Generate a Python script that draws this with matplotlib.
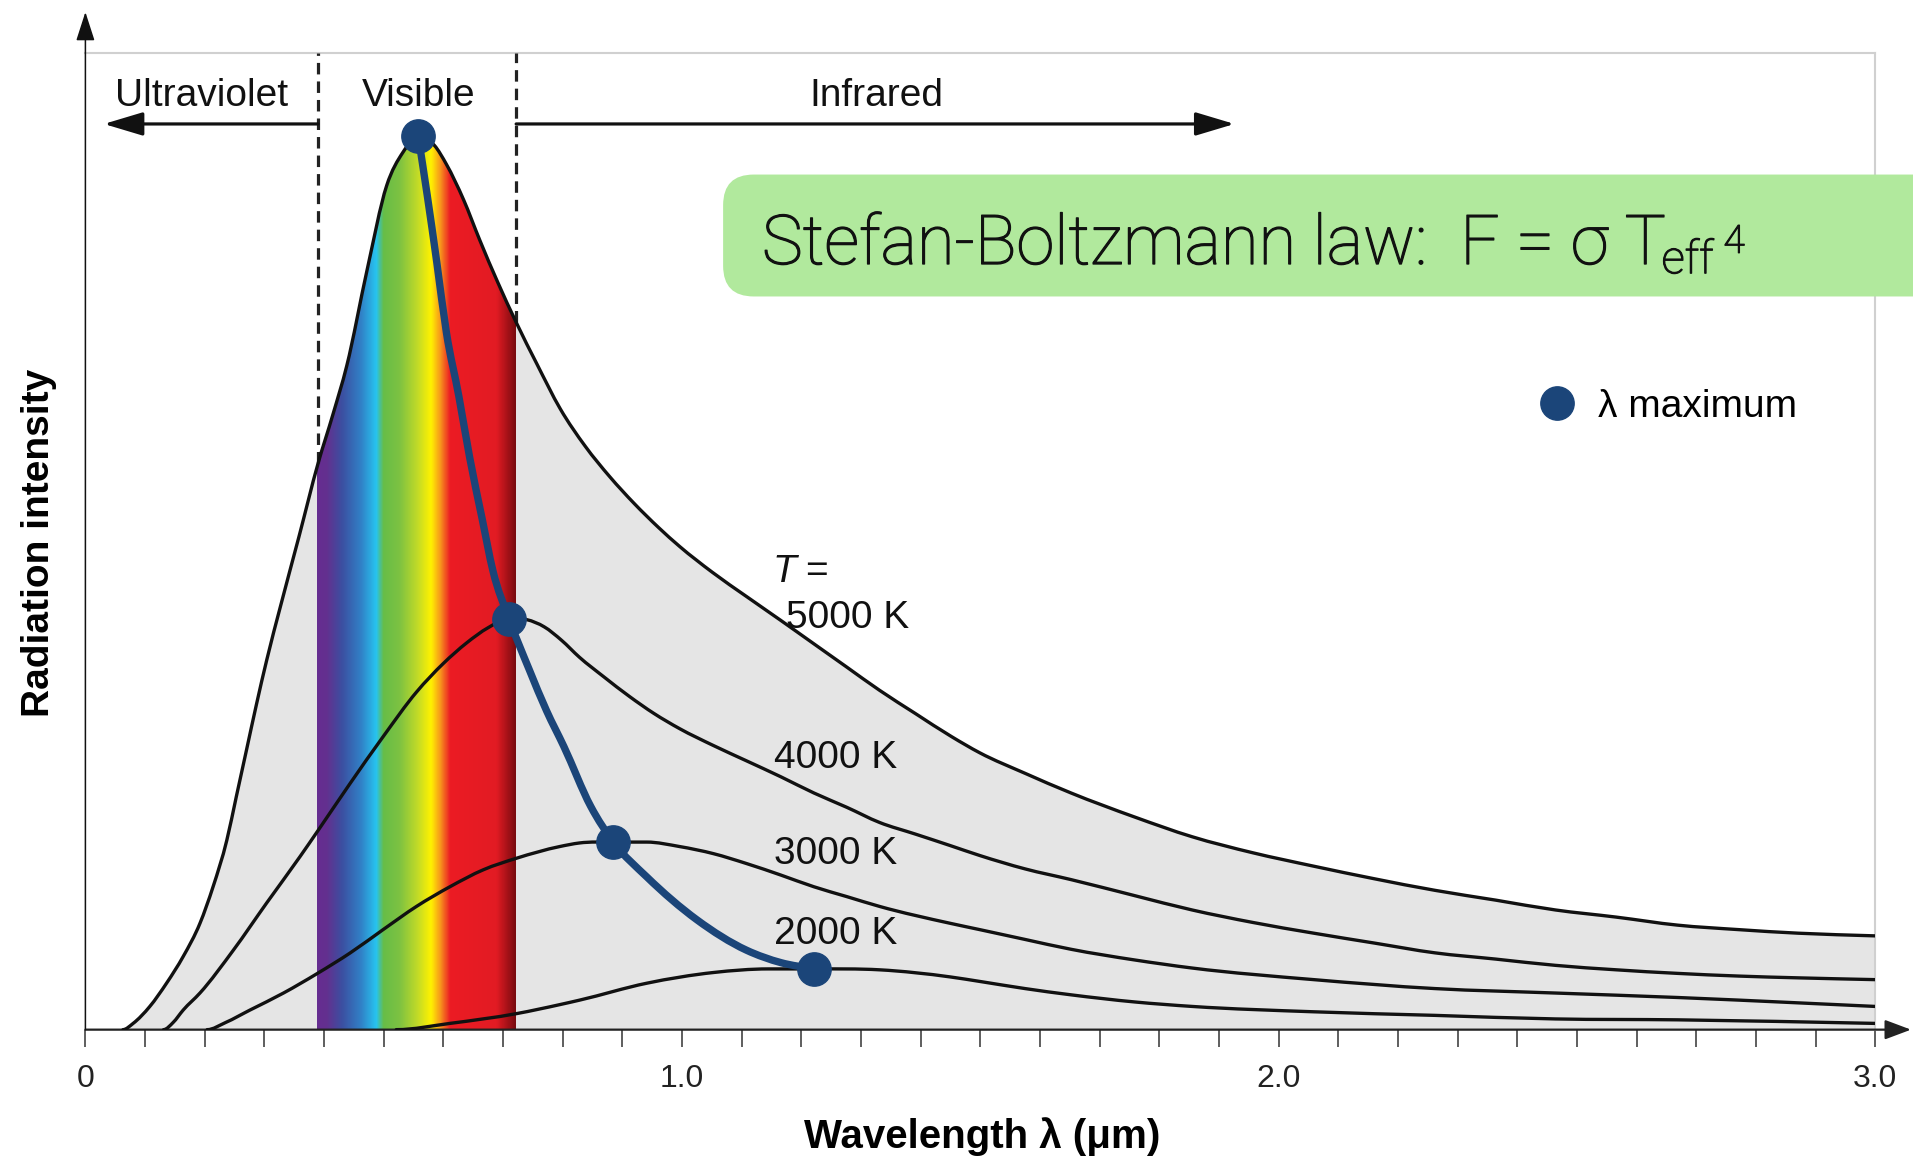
import numpy as np
import matplotlib
matplotlib.use('Agg')
import matplotlib.pyplot as plt
import matplotlib.patheffects as pe
from matplotlib.colors import LinearSegmentedColormap
from matplotlib.lines import Line2D
from matplotlib.patches import FancyBboxPatch, PathPatch
from matplotlib.path import Path
from matplotlib.text import Annotation

plt.rcParams['font.family'] = ['Liberation Sans', 'DejaVu Sans']

# blackbody curves: wavelength (um) vs intensity (arbitrary units, 5000 K peak = 100)
wl_5000 = [0.063, 0.080, 0.108, 0.136, 0.164, 0.192, 0.214, 0.237, 0.253, 0.270,
           0.287, 0.304, 0.327, 0.358, 0.390, 0.415, 0.438, 0.472, 0.505, 0.532,
           0.558, 0.585, 0.605, 0.634, 0.661, 0.691, 0.722, 0.757, 0.796, 0.838,
           0.879, 0.920, 0.961, 0.996, 1.051, 1.108, 1.166, 1.221, 1.276, 1.331,
           1.391, 1.452, 1.499, 1.575, 1.652, 1.759, 1.855, 1.957, 2.059, 2.160,
           2.262, 2.364, 2.464, 2.566, 2.669, 2.771, 2.871, 3.0]
i_5000 = [0.0, 0.7, 2.6, 5.2, 8.2, 11.9, 16.0, 21.2, 26.1, 31.3,
          36.5, 41.4, 47.4, 55.2, 63.4, 68.9, 74.3, 85.0, 94.5, 98.2,
          100.0, 99.0, 96.9, 92.9, 88.4, 83.7, 79.2, 74.5, 69.5, 65.3,
          61.9, 58.9, 56.2, 54.1, 51.2, 48.5, 45.8, 43.2, 40.6, 38.0,
          35.4, 32.8, 31.0, 28.7, 26.5, 23.8, 21.6, 19.8, 18.3, 16.9,
          15.6, 14.5, 13.4, 12.6, 11.7, 11.2, 10.8, 10.5]

wl_4000 = [0.131, 0.147, 0.164, 0.192, 0.248, 0.304, 0.360, 0.390, 0.443, 0.499,
           0.555, 0.600, 0.639, 0.675, 0.710, 0.740, 0.769, 0.798, 0.828, 0.869,
           0.912, 0.953, 0.996, 1.053, 1.108, 1.166, 1.221, 1.276, 1.331, 1.391,
           1.450, 1.499, 1.575, 1.652, 1.759, 1.855, 1.957, 2.059, 2.160, 2.262,
           2.364, 2.464, 2.566, 2.669, 2.771, 2.871, 3.0]
i_4000 = [0.0, 0.8, 2.2, 4.1, 8.9, 14.2, 19.4, 22.3, 27.5, 32.8,
          37.8, 41.0, 43.3, 45.0, 46.0, 45.9, 45.1, 43.6, 41.7, 39.5,
          37.3, 35.4, 33.7, 31.8, 30.1, 28.3, 26.5, 24.9, 23.2, 21.9,
          20.6, 19.5, 18.0, 16.8, 15.0, 13.4, 12.0, 10.8, 9.7, 8.6,
          7.9, 7.2, 6.7, 6.3, 6.0, 5.8, 5.6]

wl_3000 = [0.204, 0.235, 0.276, 0.332, 0.389, 0.444, 0.499, 0.555, 0.611, 0.667,
           0.723, 0.795, 0.828, 0.885, 0.941, 0.996, 1.053, 1.108, 1.166, 1.221,
           1.276, 1.331, 1.450, 1.499, 1.575, 1.652, 1.759, 1.855, 2.059, 2.262,
           2.464, 2.669, 2.871, 3.0]
i_3000 = [0.0, 0.8, 2.2, 4.1, 6.3, 8.6, 11.2, 13.8, 16.0, 17.9,
          19.2, 20.5, 20.9, 21.0, 21.0, 20.5, 19.7, 18.6, 17.3, 16.0,
          14.9, 13.8, 11.9, 11.2, 10.1, 9.0, 7.8, 6.9, 5.6, 4.6,
          4.1, 3.6, 3.0, 2.6]

wl_2000 = [0.521, 0.611, 0.723, 0.795, 0.828, 0.941, 1.053, 1.145, 1.221, 1.331,
           1.450, 1.499, 1.575, 1.652, 1.759, 1.855, 2.059, 2.262, 2.464, 2.669, 3.0]
i_2000 = [0.0, 0.7, 1.8, 2.8, 3.3, 5.2, 6.4, 6.8, 6.8, 6.7,
          5.9, 5.4, 4.6, 3.9, 3.1, 2.6, 2.0, 1.6, 1.2, 1.1, 0.7]

curves = [(wl_5000, i_5000), (wl_4000, i_4000), (wl_3000, i_3000), (wl_2000, i_2000)]

# wavelength of maximum emission for each temperature
peak_wl = [0.558, 0.710, 0.885, 1.221]
peak_i = [100.0, 46.0, 21.0, 6.8]
locus_wl = [0.558, 0.573, 0.589, 0.605, 0.626, 0.644, 0.665, 0.683, 0.710, 0.744,
            0.773, 0.802, 0.847, 0.885, 0.941, 1.025, 1.108, 1.166, 1.221]
locus_i = [100.0, 93.4, 85.9, 78.1, 70.9, 64.1, 57.2, 51.4, 46.0, 40.3,
           35.7, 31.7, 25.0, 21.0, 17.1, 12.3, 8.9, 7.5, 6.8]

temp_labels = ['5000 K', '4000 K', '3000 K', '2000 K']
temp_label_wl = [1.174, 1.155, 1.155, 1.155]
temp_label_i = [46.1, 30.45, 19.65, 10.75]

# visible band and its colours
visible = [0.39, 0.722]
spec_wl = [0.389, 0.405, 0.430, 0.462, 0.488, 0.500, 0.527, 0.558, 0.580,
           0.596, 0.612, 0.690, 0.722]
spec_col = ['#662d91', '#63308f', '#3c4fa1', '#3180c6', '#27c4f0', '#67bd47',
            '#7dc242', '#c3db27', '#fff200', '#f7941d', '#ec1c24', '#e21b23', '#7a0b10']

region_names = ['Ultraviolet', 'Visible', 'Infrared']
region_wl = [0.194, 0.558, 1.325]
arrow_tips = [0.031, 1.926]

xticks = np.round(np.arange(0, 3.01, 0.1), 1)
xtick_labels = ['0' if v == 0 else ('%.1f' % v if v % 1 == 0 else '') for v in xticks]

blue = '#1b4579'
ink = '#111111'
ymax = 109.4


def smooth_path(x, y, flat_start=False, close=False):
    """Cubic Bezier path through the points (Hermite in x, flat at extrema)."""
    x = np.asarray(x, float)
    y = np.asarray(y, float)
    h = np.diff(x)
    d = np.diff(y) / h
    m = np.empty_like(y)
    m[0], m[-1] = d[0], d[-1]
    for k in range(1, len(x) - 1):
        if d[k - 1] * d[k] <= 0:
            m[k] = 0.0
        else:
            m[k] = (d[k - 1] * h[k] + d[k] * h[k - 1]) / (h[k - 1] + h[k])
    if flat_start:
        m[0] = 0.0
    verts = [(x[0], y[0])]
    codes = [Path.MOVETO]
    for k in range(len(h)):
        verts += [(x[k] + h[k] / 3, y[k] + m[k] * h[k] / 3),
                  (x[k + 1] - h[k] / 3, y[k + 1] - m[k + 1] * h[k] / 3),
                  (x[k + 1], y[k + 1])]
        codes += [Path.CURVE4] * 3
    if close:
        verts += [(x[-1], 0), (x[0], 0), (x[0], y[0])]
        codes += [Path.LINETO, Path.LINETO, Path.CLOSEPOLY]
    return Path(verts, codes)


fig = plt.figure(figsize=(19.13, 11.59), dpi=100)
ax = fig.add_axes([0.04464, 0.1116, 0.9356, 0.8431])

# grey area under the hottest curve, rainbow clipped to it
area = PathPatch(smooth_path(wl_5000, i_5000, flat_start=True, close=True),
                 fc='#e5e5e5', ec='none', zorder=1, transform=ax.transData)
ax.add_patch(area)
pos = [(w - spec_wl[0]) / (spec_wl[-1] - spec_wl[0]) for w in spec_wl]
cmap = LinearSegmentedColormap.from_list('spectrum', list(zip(pos, spec_col)))
im = ax.imshow(np.linspace(0, 1, 800)[None, :], cmap=cmap, aspect='auto',
               extent=[spec_wl[0], spec_wl[-1], 0, 101], interpolation='bilinear', zorder=2)
im.set_clip_path(area)

for wl, inten in curves:
    ax.add_patch(PathPatch(smooth_path(wl, inten, flat_start=True), fill=False,
                           ec=ink, lw=2.4, zorder=4, capstyle='round'))

# band limits
for e in visible:
    ax.plot([e, e], [np.interp(e, wl_5000, i_5000), ymax], color='#222222', lw=2.3,
            ls=(0, (3.6, 2.2)), zorder=3)
for e, tip in zip(visible, arrow_tips):
    ax.annotate('', xy=(tip, 101.4), xytext=(e, 101.4),
                arrowprops=dict(arrowstyle='-|>,head_length=1.2,head_width=0.36',
                                mutation_scale=20, lw=2.3, color=ink,
                                shrinkA=0, shrinkB=0))
for name, w in zip(region_names, region_wl):
    ax.text(w, 104.5, name, ha='center', va='center', fontsize=28, color=ink)

# Wien displacement locus
ax.add_patch(PathPatch(smooth_path(locus_wl, locus_i), fill=False, ec=blue, lw=5.3,
                       zorder=5, capstyle='round'))
ax.plot(peak_wl, peak_i, 'o', ms=24, color=blue, zorder=6)

ax.text(1.151, 51.2, 'T', style='italic', fontsize=28, va='center', color=ink)
ax.text(1.207, 51.2, '=', fontsize=28, va='center', color=ink)
for lab, w, v in zip(temp_labels, temp_label_wl, temp_label_i):
    ax.text(w, v, lab, fontsize=28, va='center', color=ink)

ax.legend(handles=[Line2D([], [], marker='o', ls='', color=blue, ms=24)],
          labels=['λ maximum'], loc='center left', bbox_to_anchor=(0.8113, 0.6375),
          frameon=False, fontsize=28, handlelength=1.0, handletextpad=0.55,
          borderpad=0, borderaxespad=0)

ax.set_xlim(0, 3.0)
ax.set_ylim(0, ymax)
ax.set_xticks(xticks)
ax.set_xticklabels(xtick_labels)
ax.set_yticks([])
ax.tick_params(axis='x', direction='out', length=12, width=1.1, color='#333333',
               pad=13, labelsize=23, labelcolor='#222222')
for s in ['left', 'bottom']:
    ax.spines[s].set_visible(False)
for s in ['top', 'right']:
    ax.spines[s].set_color('#d0d0d0')
    ax.spines[s].set_linewidth(1.5)

# axis lines with arrow heads
ax.annotate('', xy=(1.0200, 0), xytext=(0, 0), xycoords='axes fraction',
            arrowprops=dict(arrowstyle='-|>,head_length=0.8,head_width=0.3',
                            mutation_scale=20, lw=1.6, color='#222222', shrinkA=0, shrinkB=0),
            annotation_clip=False)
ax.annotate('', xy=(0, 1.0414), xytext=(0, 0), xycoords='axes fraction',
            arrowprops=dict(arrowstyle='-|>,head_length=0.9,head_width=0.29',
                            mutation_scale=20, lw=1.1, color=ink, shrinkA=0, shrinkB=0),
            annotation_clip=False)

ax.set_xlabel('Wavelength λ (μm)', fontsize=29, fontweight='bold', va='center')
ax.xaxis.set_label_coords(0.501, -0.1098)
ax.set_ylabel('Radiation intensity', fontsize=28, fontweight='bold', va='center')
ax.yaxis.set_label_coords(-0.0259, 0.498)

# Stefan-Boltzmann banner
box = FancyBboxPatch((0.378, 0.7442), 0.7, 0.1052,
                     boxstyle='round,pad=0,rounding_size=0.016',
                     mutation_aspect=1913 / 1159, transform=fig.transFigure,
                     fc='#b1e99d', ec='none', zorder=5)
fig.add_artist(box)
thicken = [pe.withStroke(linewidth=0.9, foreground=ink)]
sb_font = dict(family=['Roboto', 'DejaVu Sans'], fontweight='light', color=ink,
               path_effects=thicken)
sb = fig.text(0.3983, 0.7722, 'Stefan-Boltzmann law:  F = σ T', fontsize=49.5,
              va='baseline', zorder=6, **sb_font)
sub = Annotation('eff', xy=(1, 0), xycoords=sb, xytext=(-3.5, -3.0),
                 textcoords='offset points', fontsize=33, ha='left', va='bottom',
                 zorder=6, **sb_font)
fig.add_artist(sub)
sup = Annotation('4', xy=(1, 0), xycoords=sub, xytext=(7.0, 15.4),
                 textcoords='offset points', fontsize=28, ha='left', va='bottom',
                 zorder=6, **sb_font)
fig.add_artist(sup)

fig.savefig('out.png', dpi=100, facecolor='white')
